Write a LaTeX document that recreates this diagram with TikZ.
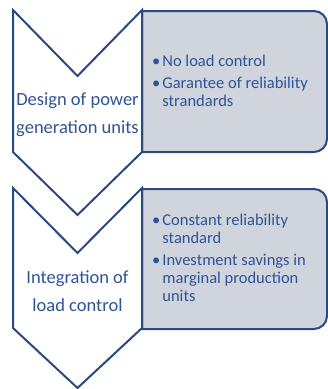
\documentclass[tikz,border=0pt]{standalone}
\usepackage{fontspec}
\setmainfont{Carlito}
\usepackage{tikz}
\definecolor{stageline}{RGB}{42, 74, 127}
\definecolor{stagetext}{RGB}{47, 84, 150}
\definecolor{stagefill}{RGB}{207, 212, 221}

\tikzset{
  chevron/.style={draw=stageline, fill=white, line width=2pt, line join=miter},
  notebox/.style={draw=stageline, fill=stagefill, line width=2pt},
  stagelabel/.style={text=stagetext, align=center, inner sep=0pt,
    font=\fontsize{18.5}{28}\selectfont},
  itemlist/.style={text=stagetext, inner sep=0pt, anchor=north west,
    font=\fontsize{16.5}{18}\selectfont}
}

\begin{document}
\begin{tikzpicture}[x=1pt, y=1pt]
            \useasboundingbox (0,0) rectangle (328,-389);
            % Box of the first stage
            \path[notebox] (142,-11) -- (314,-11) arc[start angle=90, end angle=0, radius=13]
                 -- (327,-139) arc[start angle=0, end angle=-90, radius=13] -- (142,-152) -- cycle;
            % Box of the second stage
            \path[notebox] (142,-189) -- (314,-189) arc[start angle=90, end angle=0, radius=13]
                 -- (327,-316) arc[start angle=0, end angle=-90, radius=13] -- (142,-329) -- cycle;
            % Chevrons
            \path[chevron] (13,-10) -- (77.5,-76) -- (142,-10) -- (142,-152) -- (77.5,-215) -- (13,-152) -- cycle;
            \path[chevron] (13,-188) -- (77.5,-253) -- (142,-188) -- (142,-328) -- (77.5,-388) -- (13,-328) -- cycle;
            % Stage names
            \node[stagelabel] (design) at (77.5,-114.5) {Design of power\\generation units};
            \node[stagelabel] (integration) at (77.5,-291.5) {Integration of\\load control};
            % Bullet points
            \node[itemlist] (designitems) at (152,-53.4) {%
                 \begin{tabular}{@{}l@{\hspace{2pt}}l@{}}
                 \textbullet & No load control\\[4pt]
                 \textbullet & Garantee of reliability\\
                             & strandards
                 \end{tabular}};
            \node[itemlist] (integrationitems) at (152,-212.4) {%
                 \begin{tabular}{@{}l@{\hspace{2pt}}l@{}}
                 \textbullet & Constant reliability\\
                             & standard\\[4pt]
                 \textbullet & Investment savings in\\
                             & marginal production\\
                             & units
                 \end{tabular}};
        \end{tikzpicture}
\end{document}
